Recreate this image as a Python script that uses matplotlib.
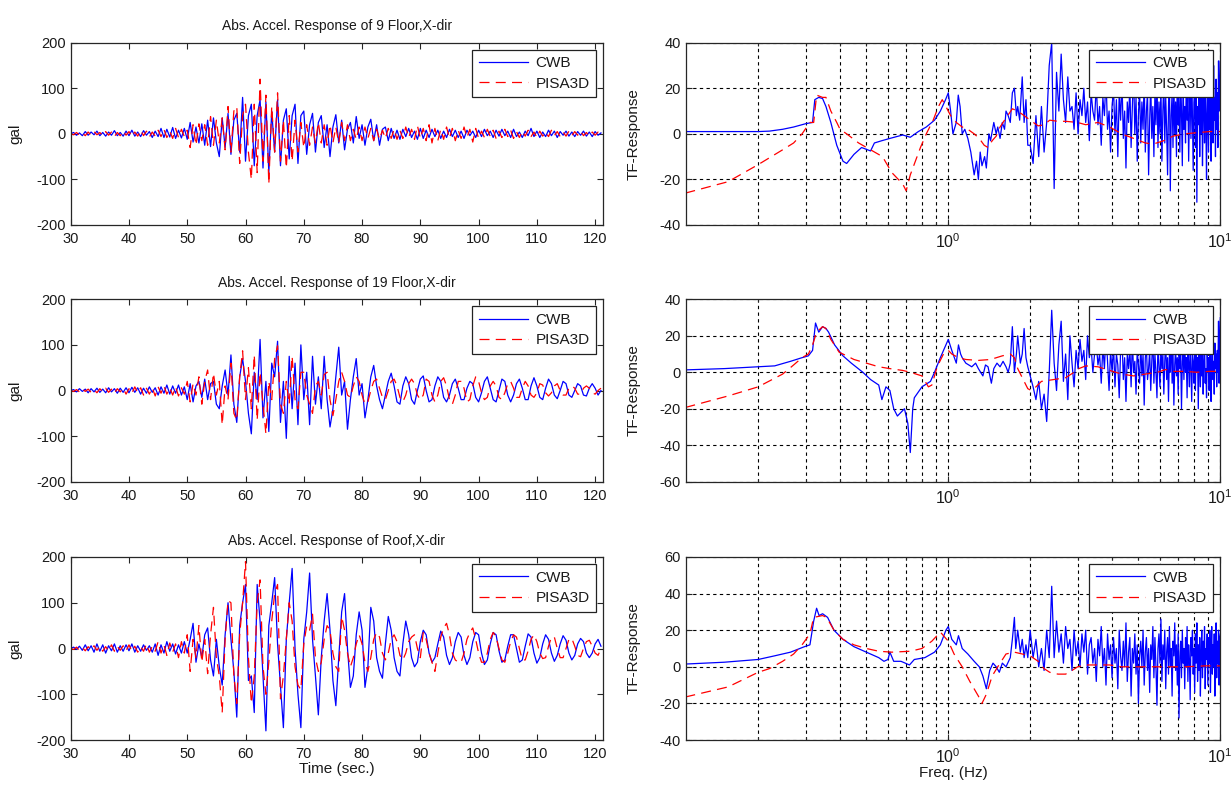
import numpy as np
import matplotlib
matplotlib.use("Agg")
import matplotlib.pyplot as plt
from matplotlib.ticker import LogLocator, NullFormatter

plt.rcParams['font.family'] = ['Liberation Sans', 'DejaVu Sans']
plt.rcParams['axes.unicode_minus'] = False

# ---------------- time-history data (gal), sampled every 0.5 s from 30 s ----------------
t_start = 30.0
t_step = 0.5

cwb_9f = [0, 3, -3, 2, -4, 5, -3, 4, -2, 6, -4, 3, -5, 4, -3, 7, -4, 3, -5, 6,
          -4, 8, -5, 4, -6, 7, -3, 5, -8, 6,
          -6, 12, -8, 10, -7, 14, -10, 8, -9, 12,
          -12, 25, -18, 15, -20, 22, -25, 30, -28, 35,
          -20, -50, 35, -30, 45, -45, 30, 45, -40, 80,
          -60, 40, 65, -70, 40, 75, -75, 70, -85, 50,
          -40, 75, -70, 30, 55, -55, 40, 65, -65, 40,
          50, -45, 20, 45, -40, 25, 40, -30, 20, -50,
          15, 42, -20, 30, -35, 10, 25, -20, 38, -10,
          20, -25, 15, 32, -15, 20, -25, 10, 15, -15,
          12, -10, 8, -12, 10, -6, 12, -8, 6, -12,
          12, -10, 8, -8, 10, -6, 8, -10, 6, -8,
          10, -6, 8, -8, 6, -10, 8, -4, 6, -8,
          8, -6, 10, -4, 6, -8, 8, -5, 10, -4,
          6, -8, 10, -6, 4, -8, 6, -4, 12, -6,
          6, -8, 4, -6, 8, -4, 6, -8, 5, -3,
          6, -5, 4, -6, 5, -3, 6, -5, 4, -6,
          5, -3, 2]

pisa_9f = [0, -2, 3, -3, 2, -4, 4, -3, 5, -2, 3, -4, 5, -3, 4, -6, 3, -4, 6, -3,
           5, -6, 4, -5, 8, -4, 6, -7, 4, -5,
           8, -6, 10, -8, 6, -10, 12, -8, 10, -6,
           8, -30, 20, -25, 22, -15, 20, -25, 38, -25,
           30, -20, 35, -35, 60, -40, 50, 60, -65, 40,
           65, -40, -100, 65, -85, 120, -60, 85, -110, 60,
           -40, 90, -60, 30, -75, 40, -60, 30, -40, 25,
           -30, 20, -25, 15, -20, 25, -20, 20, -25, 20,
           -20, 15, -20, 25, -15, 20, -15, 10, -12, 15,
           -15, 15, -10, 12, -15, 10, -12, 8, -10, 12,
           -10, 10, -12, 8, -10, 15, -8, 10, -12, 18,
           -10, 12, -15, 20, -20, 12, -15, 10, -12, 15,
           -10, 12, -15, 8, -10, 15, -8, 10, -18, 12,
           -10, 6, -8, 10, -6, 8, -10, 6, -8, 10,
           -6, 8, -10, 5, -8, 6, -5, 8, -6, 4,
           -8, 6, -5, 4, -6, 8, -4, 5, -6, 4,
           -5, 6, -4, 5, -3, 6, -4, 3, -5, 4,
           -3, 4, 2]

cwb_19f = [0, 2, -3, 4, -2, 3, -5, 4, -3, 5, -4, 3, -5, 6, -3, 4, -6, 5, -4, 6,
           -5, 7, -4, 6, -8, 5, -6, 8, -4, 6,
           -10, 8, -6, 12, -8, 10, -6, 12, -10, 8,
           -20, 15, -25, 10, 20, -15, 25, -20, 15, 20,
           -30, -40, 10, 45, -10, 78, -30, -70, 30, 70,
           20, -50, -95, 40, -20, 112, -60, 20, -90, 60,
           30, 108, -70, 20, -105, 75, -40, 60, -75, 100,
           -20, 40, -75, 75, -30, 30, -40, 75, -20, -80,
           -40, 30, 95, -10, 20, -85, -20, 30, 70, -10,
           15, -60, -20, 30, 55, 10, -20, -40, -10, 20,
           38, 10, -25, -30, 10, 30, 15, -20, -30, 0,
           25, 32, 0, -25, -20, 10, 30, 20, -15, -25,
           -10, 15, 25, 5, -20, -20, 5, 20, 15, -15,
           -25, -5, 20, 30, 5, -20, -25, 0, 25, 20,
           -10, -25, -10, 15, 25, 5, -20, -20, 10, 28,
           10, -15, -20, 5, 25, 15, -10, -18, 0, 20,
           15, -10, -15, 0, 15, 10, -10, -12, 5, 15,
           5, -10, 0]

pisa_19f = [0, -2, 2, -3, 4, -2, 3, -4, 2, -5, 4, -3, 5, -4, 3, -6, 4, -3, 5, -8,
            4, -6, 8, -5, 6, -10, 5, -8, 6, -12,
            8, -6, 10, -8, 6, -10, 8, -12, 6, -8,
            20, -25, 15, -10, 30, -30, 20, 45, -20, 38,
            -10, 20, -75, 10, -20, 60, -50, -65, 30, 87,
            -20, 50, -40, 78, -65, 40, -30, -95, 20, -20,
            70, 98, -30, -50, 20, -30, 75, -20, -40, 40,
            40, -10, -30, -50, 10, 20, -10, 35, 40, -20,
            -55, -20, 20, 40, 20, -10, -15, 10, 30, 20,
            -10, -30, -25, 0, 20, 25, 5, -15, -20, 0,
            20, 25, 10, -15, -25, -10, 15, 25, 15, -10,
            -20, -10, 25, 20, -10, -25, -10, 20, 28, 10,
            -20, -30, -10, 20, 20, 5, -25, -20, 10, 30,
            20, -5, -20, -15, 10, 20, 10, -15, -20, -5,
            15, 20, 5, -15, -15, 5, 20, 10, -10, -15,
            -5, 15, 12, -5, -12, -5, 10, 15, 0, -10,
            -10, 5, 10, 5, -8, -8, 5, 10, 5, -5,
            -8, 0, 5]

cwb_roof = [0, 3, -2, 5, -4, 8, -5, 6, -8, 10, -6, 8, -10, 6, -5, 10, -8, 6, -6, 8,
            -5, 10, -8, 6, -6, 8, -4, 6, -8, 10,
            -15, 8, -10, 15, -6, 10, -12, 8, -10, 15,
            -10, 20, 55, -30, 10, -20, 30, 45, -25, -60,
            20, -40, -80, 30, 100, 20, -50, -150, 50, 100,
            140, -70, -60, -140, 140, 60, -60, -180, 50, 100,
            155, 10, -80, -173, 20, 100, 175, 0, -100, -173,
            20, 80, 165, 20, -60, -145, -20, 60, 120, 40,
            -70, -125, -20, 80, 120, 0, -85, -60, 30, 80,
            40, -85, -40, 90, 60, -20, -50, -65, 10, 70,
            40, -20, -50, -60, 10, 60, 30, -20, -40, -30,
            15, 40, 30, -10, -30, -20, 10, 38, 25, -15,
            -35, -20, 15, 35, 25, -15, -35, -20, 15, 35,
            30, -10, -35, -25, 10, 35, 30, -5, -30, -25,
            5, 30, 30, 0, -30, -25, 5, 32, 25, -10,
            -32, -20, 10, 30, 20, -10, -28, -15, 10, 28,
            18, -10, -25, -15, 10, 22, 15, -10, -20, -10,
            10, 20, 5]

pisa_roof = [0, -2, 3, -4, 2, -5, 4, -3, 6, -4, 5, -6, 4, -5, 8, -6, 5, -4, 6, -5,
             8, -6, 5, -8, 4, -6, 10, -8, 5, -6,
             15, -10, 8, -15, 12, -8, 10, -20, 15, -10,
             30, -50, 20, -20, 50, -30, 20, -55, 30, 90,
             -20, -60, -140, 20, 105, 100, -60, -120, 30, 100,
             190, -20, -120, -60, 100, 150, -40, -100, -30, 60,
             120, 140, -110, -60, 20, 100, 60, -40, -80, -90,
             10, 50, 40, 75, -20, -50, -30, 20, 50, 40,
             -10, -40, -50, 70, 40, -10, -40, -20, 10, 30,
             10, -30, -50, -20, 20, 35, 25, -10, -25, -10,
             20, 30, 15, -15, -25, -10, 15, 25, 30, 0,
             -20, 35, 20, -10, -30, -50, -10, 25, 45, 55,
             30, -10, -25, -30, -30, -10, 20, 35, 45, 20,
             -10, -30, -30, -10, 20, 35, 25, 0, -25, -30,
             -10, 15, 30, 25, 0, -25, -25, -5, 20, 30,
             15, -10, -22, -20, 5, 25, 25, 0, -20, -20,
             0, 20, 22, 5, -15, -18, 0, 15, 18, 5,
             -10, -15, 0]

time_titles = ["Abs. Accel. Response of 9 Floor,X-dir",
               "Abs. Accel. Response of 19 Floor,X-dir",
               "Abs. Accel. Response of Roof,X-dir"]

# ---------------- transfer-function data ----------------
# smooth low-frequency part of CWB (explicit frequencies), noisy part on 0.05 Hz grid from 2 Hz
hi_f_start = 2.0
hi_f_step = 0.05

tf_cwb_9f_f = [0.108, 0.15, 0.2, 0.22, 0.246, 0.27, 0.30, 0.317, 0.323, 0.334,
               0.345, 0.355, 0.37, 0.389, 0.41, 0.423, 0.45, 0.48, 0.518, 0.535,
               0.57, 0.61, 0.68, 0.725, 0.776, 0.83, 0.89, 0.935, 0.977, 1.0,
               1.02, 1.04, 1.07, 1.088, 1.105, 1.125, 1.15, 1.18, 1.21, 1.245,
               1.27, 1.29, 1.31, 1.33, 1.36, 1.38, 1.41, 1.43, 1.47, 1.50,
               1.52, 1.55, 1.58, 1.61, 1.63, 1.66, 1.69, 1.72, 1.75, 1.78,
               1.80, 1.83, 1.87, 1.90, 1.93, 1.96]
tf_cwb_9f_v = [1, 1, 1, 1.2, 2, 3, 4.5, 5, 15, 16,
               15.5, 12, 5, -5, -12, -13, -9, -6, -7.5, -4,
               -3, -2, -0.5, -1.5, 1, 3, 6, 10, 15, 18,
               10, 0, 5, 17, 12, 0, 2, -2, -8, -18,
               -12, -20, -8, -14, -10, -15, 0, -3, 5, 0,
               3, -2, 5, 2, 10, 8, 5, 18, 20, 8,
               12, 6, 25, 5, 15, -5]
tf_cwb_9f_hi = [-5, -13, 8, -10, 12, -8, 5, 30, 40, -24,
                27, 10, 35, 15, 5, 25, 10, 12, 2, 18,
                0, 15, 8, 20, 5, 14, -3, 18, 10, 6,
                22, 4, 12, -5, 16, 8, 25, 2, 10, -8,
                12, 20, 0, 15, -10, 18, 6, 24, -2, 10,
                -15, 14, 5, 22, -6, 12, 28, 0, 16, -12,
                8, 20, -4, 14, 2, 25, -8, 10, 18, -18,
                6, 22, -2, 12, -10, 18, 4, 26, -6, 14,
                0, 20, -12, 10, 24, -4, 16, 2, -18, 12,
                28, -25, 8, 18, -6, 22, 0, 14, -10, 30,
                4, 16, -8, 20, 10, -14, 24, 2, 12, -4,
                26, 6, 18, -12, 10, 22, -2, 30, 8, -16,
                14, 20, -6, 25, -30, 12, 4, 28, -10, 16,
                0, 22, -14, 10, 26, -4, 18, 6, -20, 24,
                8, -8, 20, 2, 28, -12, 14, 22, -4, 30,
                6, 16, -10, 24, 2, 18, -6, 32, 10, 20,
                32]
tf_pisa_9f_f = [0.108, 0.155, 0.2, 0.246, 0.27, 0.29, 0.31, 0.32, 0.328, 0.345,
                0.355, 0.37, 0.389, 0.40, 0.423, 0.468, 0.518, 0.573, 0.62, 0.68,
                0.70, 0.725, 0.79, 0.83, 0.88, 0.92, 0.95, 0.98, 1.02, 1.07,
                1.125, 1.18, 1.245, 1.30, 1.355, 1.40, 1.45, 1.50, 1.55, 1.63,
                1.72, 1.80, 1.90, 2.0, 2.14, 2.25, 2.36, 2.53, 2.7, 2.99,
                3.2, 3.55, 3.92, 4.34, 4.8, 5.3, 5.66, 6.2, 6.7, 7.4,
                8.2, 9.1, 10.0]
tf_pisa_9f_v = [-26, -21, -13.5, -7, -4, 0, 5, 5, 17, 16,
                16, 10, 5, 2, 0, -4, -7, -10, -17, -22,
                -25, -18, -6, 0, 6, 12, 15, 12, 8, 5,
                3, 2, 0, -2, -5, -6, -3, -1, 3, 7,
                11, 10, 8, 6, 3.5, 4, 6, 5.5, 5.5, 5,
                4, 5, 3, 0, -2, -4, -4.5, -3, -1, 0,
                0.5, 1, 1]

tf_cwb_19f_f = [0.108, 0.15, 0.2, 0.23, 0.263, 0.29, 0.306, 0.317, 0.325, 0.334,
                0.345, 0.355, 0.363, 0.382, 0.41, 0.44, 0.485, 0.518, 0.555, 0.57,
                0.59, 0.61, 0.63, 0.65, 0.69, 0.71, 0.725, 0.74, 0.75, 0.80,
                0.86, 0.89, 0.935, 0.98, 1.0, 1.03, 1.07, 1.09, 1.11, 1.125,
                1.16, 1.22, 1.26, 1.29, 1.34, 1.37, 1.40, 1.44, 1.47, 1.51,
                1.55, 1.59, 1.63, 1.66, 1.69, 1.72, 1.75, 1.78, 1.80, 1.84,
                1.87, 1.90, 1.93, 1.96]
tf_cwb_19f_v = [1.3, 2, 3, 3.5, 6, 8, 9, 12, 27, 22,
                25, 24, 22, 15, 9, 5, 0, -4, -7, -15,
                -8, -10, -20, -24, -20, -28, -44, -20, -14, -8,
                -5, 0, 8, 15, 18, 12, 5, 15, 10, 8,
                5, 3, 5, 2, -2, 4, 3, -6, 2, 5,
                3, 6, 3, 0, 5, 25, 0, 10, 20, 5,
                10, 24, 8, 3]
tf_cwb_19f_hi = [-2, -8, -15, -5, -20, -12, -27, 0, 34, 5,
                 -10, 15, 28, -5, 10, -15, 20, 5, -8, 12,
                 2, 18, 6, 12, -4, 20, 8, 14, 0, 10,
                 16, 4, 10, -6, 14, 2, 22, 6, -10, 12,
                 0, 15, -8, 10, 4, -14, 12, 20, -4, 8,
                 -16, 10, 2, 14, -8, 18, 0, 6, -12, 12,
                 4, -6, 16, -2, 10, -18, 8, 14, -4, 2,
                 12, -10, 6, 20, -6, 10, 0, -14, 16, 4,
                 -8, 14, 2, 10, -12, 6, 18, -4, 8, -16,
                 10, 0, 24, -6, 12, -18, 4, 14, -2, 8,
                 -12, 16, 2, 10, -20, 6, 12, -4, 18, 0,
                 8, -14, 14, 4, -8, 20, 2, -16, 10, 6,
                 -6, 12, -10, 16, 0, 8, -20, 10, 4, -8,
                 14, -2, 10, -12, 6, 18, -6, 2, -14, 12,
                 0, 8, -10, 14, 4, -16, 10, 22, -4, 6,
                 -12, 16, 2, 10, -8, 12, 0, 28, -6, 20,
                 30]
tf_pisa_19f_f = [0.108, 0.155, 0.2, 0.246, 0.27, 0.29, 0.306, 0.317, 0.328, 0.345,
                 0.355, 0.37, 0.397, 0.423, 0.45, 0.5, 0.555, 0.61, 0.68, 0.725,
                 0.80, 0.845, 0.87, 0.91, 0.96, 1.0, 1.03, 1.09, 1.16, 1.29,
                 1.43, 1.58, 1.69, 1.75, 1.80, 1.90, 1.96, 2.02, 2.1, 2.2,
                 2.44, 2.7, 2.9, 3.02, 3.2, 3.55, 3.92, 4.34, 4.8, 5.3,
                 5.88, 6.3, 6.7, 7.4, 8.2, 9.1, 10.0]
tf_pisa_19f_v = [-19.3, -13, -8, -1, 4, 8, 10, 15, 22, 25,
                 24, 18, 11, 9, 7, 5, 3, 2, 1, 0,
                 -2, -8, -7, 3, 10, 12, 10, 8, 7, 6.5,
                 7, 9, 10, 8, 2, -5, -9, -10, -8, -5,
                 -4, -3, 0, 2, 3.5, 3, 1, -1, -2, -1,
                 0, 1.5, 0.5, 0.5, 0, 0.5, 0.5]

tf_cwb_roof_f = [0.108, 0.15, 0.2, 0.23, 0.263, 0.296, 0.31, 0.32, 0.328, 0.335,
                 0.345, 0.36, 0.38, 0.41, 0.45, 0.5, 0.555, 0.58, 0.60, 0.61,
                 0.63, 0.67, 0.72, 0.75, 0.82, 0.89, 0.935, 0.98, 1.0, 1.03,
                 1.07, 1.09, 1.125, 1.18, 1.245, 1.3, 1.34, 1.38, 1.42, 1.46,
                 1.5, 1.54, 1.58, 1.63, 1.69, 1.72, 1.75, 1.77, 1.80, 1.84,
                 1.87, 1.90, 1.93, 1.96]
tf_cwb_roof_v = [1.5, 2.5, 4, 6, 8, 11, 12, 25, 32, 28,
                 29, 27, 20, 15, 11, 8, 5, 3, 4, 8,
                 3, 3, 1, 4, 5, 8, 12, 20, 22, 15,
                 12, 17, 10, 7, 3, 0, -5, -12, -2, 2,
                 0, -3, 2, 0, 5, 15, 27, 10, 20, 8,
                 15, 5, 12, 5]
tf_cwb_roof_hi = [20, 5, 15, 0, 10, -2, 20, 5, 44, 5,
                  25, 8, 18, 2, 22, 10, 15, -2, 20, 6,
                  14, 0, 18, 8, 20, -4, 12, 16, 2, 10,
                  -8, 15, 6, 22, 0, 10, -10, 18, 4, 12,
                  -6, 16, 2, 10, -12, 20, 6, -2, 14, 0,
                  24, -8, 8, 16, -16, 10, 2, 18, -4, 12,
                  -20, 6, 14, 0, 20, -10, 8, 16, -2, 10,
                  -14, 12, 4, 22, -6, 16, 0, -21, 10, 18,
                  2, 26, -8, 12, 4, 20, -12, 8, 16, -4,
                  22, 0, 10, -16, 14, 6, 24, -2, 12, -10,
                  18, -28, 6, 14, -6, 20, 2, 10, -12, 16,
                  0, 22, -8, 12, 4, -18, 16, 6, 20, -4,
                  10, -14, 18, 2, 24, -8, 12, -2, 16, -16,
                  8, 20, -6, 14, 0, 22, -12, 10, 4, 18,
                  -10, 16, 2, 20, -14, 8, 22, -4, 12, 0,
                  18, -16, 10, 24, -6, 14, 2, 20, -10, 16,
                  18]
tf_pisa_roof_f = [0.108, 0.155, 0.2, 0.22, 0.246, 0.27, 0.29, 0.31, 0.32, 0.345,
                  0.357, 0.38, 0.41, 0.45, 0.5, 0.555, 0.62, 0.725, 0.80, 0.87,
                  0.935, 0.96, 1.0, 1.05, 1.125, 1.2, 1.29, 1.33, 1.38, 1.45,
                  1.52, 1.63, 1.75, 1.87, 2.0, 2.14, 2.25, 2.36, 2.53, 2.7,
                  2.85, 2.99, 3.2, 3.55, 3.92, 4.34, 4.8, 5.5, 6.3, 7.4,
                  8.8, 10.0]
tf_pisa_roof_v = [-16.5, -11, -3, -1, 3, 7, 12, 18, 27, 28,
                  27, 20, 15, 12, 10, 8.5, 8, 8.5, 10, 14,
                  19, 17, 14, 7, 0, -8, -16, -20, -15, -5,
                  0, 7, 8, 7, 6, 3, -1, -3, -4, -4,
                  -2, 0, 1, 1, 1, 0, 0, 0, 0, 0,
                  0.5, 0.5]

tf_yticks = [[-40, -20, 0, 20, 40],
             [-60, -40, -20, 0, 20, 40],
             [-40, -20, 0, 20, 40, 60]]

series_labels = ["CWB", "PISA3D"]

# ---------------- figure ----------------
W, H = 1231, 787
fig = plt.figure(figsize=(W / 100, H / 100), dpi=100)

rows_px = [(42.7, 225.0), (299.3, 481.7), (557.0, 740.0)]
left_px = (70.7, 603.3)
right_px = (685.7, 1220.3)

BLUE = (0, 0, 1)
RED = (1, 0, 0)
DASH = (8, 5)
TXT = '#1a1a1a'


def axes_at(xpx, ypx):
    x0, x1 = xpx
    y0, y1 = ypx
    return fig.add_axes([x0 / W, 1 - y1 / H, (x1 - x0) / W, (y1 - y0) / H])


def style(ax):
    for s in ax.spines.values():
        s.set_linewidth(0.9)
        s.set_color('#262626')
    ax.tick_params(which='both', direction='in', top=True, right=True,
                   labelsize=10.5, colors='#262626', labelcolor=TXT, width=0.8)
    ax.tick_params(which='major', length=4.5)
    ax.tick_params(which='minor', length=2.5)
    ax.tick_params(axis='x', which='major', pad=5)


def add_legend(ax):
    leg = ax.legend(loc='upper right', fontsize=11, frameon=True, fancybox=False,
                    edgecolor='#222222', framealpha=1, handlelength=3.2,
                    handletextpad=0.5, labelspacing=0.4, borderpad=0.45,
                    borderaxespad=0.45)
    leg.get_frame().set_linewidth(0.9)
    for txt in leg.get_texts():
        txt.set_color(TXT)


time_series = [(cwb_9f, pisa_9f), (cwb_19f, pisa_19f), (cwb_roof, pisa_roof)]

for i, (cwb, pisa) in enumerate(time_series):
    ax = axes_at(left_px, rows_px[i])
    tc = t_start + t_step * np.arange(len(cwb))
    tp = t_start + t_step * np.arange(len(pisa))
    ax.plot(tc, cwb, color=BLUE, lw=0.9, label=series_labels[0])
    ax.plot(tp, pisa, color=RED, lw=0.9, dashes=DASH, label=series_labels[1])
    ax.set_xlim(30, 121.4)
    ax.set_ylim(-200, 200)
    ax.set_xticks(np.arange(30, 121, 10))
    ax.set_yticks([-200, -100, 0, 100, 200])
    style(ax)
    ax.set_title(time_titles[i], fontsize=10, color=TXT, pad=9)
    ax.set_ylabel('gal', fontsize=11, color=TXT)
    ax.yaxis.set_label_coords(-0.09, 0.5)
    if i == 2:
        ax.set_xlabel('Time (sec.)', fontsize=11, color=TXT, labelpad=1)
    add_legend(ax)

tf_sets = [
    (tf_cwb_9f_f, tf_cwb_9f_v, tf_cwb_9f_hi, tf_pisa_9f_f, tf_pisa_9f_v),
    (tf_cwb_19f_f, tf_cwb_19f_v, tf_cwb_19f_hi, tf_pisa_19f_f, tf_pisa_19f_v),
    (tf_cwb_roof_f, tf_cwb_roof_v, tf_cwb_roof_hi, tf_pisa_roof_f, tf_pisa_roof_v),
]

for i, (cf, cv, chi, pf, pv) in enumerate(tf_sets):
    ax = axes_at(right_px, rows_px[i])
    f_hi = hi_f_start + hi_f_step * np.arange(len(chi))
    f_all = np.concatenate([np.asarray(cf, float), f_hi])
    v_all = np.concatenate([np.asarray(cv, float), np.asarray(chi, float)])
    ax.plot(f_all, v_all, color=BLUE, lw=0.9, label=series_labels[0])
    ax.plot(pf, pv, color=RED, lw=0.9, dashes=DASH, label=series_labels[1])
    ax.set_xscale('log')
    ax.set_xlim(0.1083, 10)
    yt = tf_yticks[i]
    ax.set_ylim(yt[0], yt[-1])
    ax.set_yticks(yt)
    ax.xaxis.set_major_locator(LogLocator(base=10, numticks=10))
    ax.xaxis.set_minor_locator(LogLocator(base=10, subs=np.arange(2, 10), numticks=20))
    ax.xaxis.set_minor_formatter(NullFormatter())
    ax.grid(True, which='both', axis='x', color='black', lw=0.8, ls=(0, (3, 3)))
    ax.grid(True, which='major', axis='y', color='black', lw=0.8, ls=(0, (3, 3)))
    ax.set_axisbelow(True)
    style(ax)
    ax.tick_params(axis='x', which='major', labelsize=11.5)
    ax.set_ylabel('TF-Response', fontsize=11, color=TXT)
    ax.yaxis.set_label_coords(-0.085, 0.5)
    if i == 2:
        ax.set_xlabel('Freq. (Hz)', fontsize=11, color=TXT, labelpad=0)
    add_legend(ax)

fig.savefig('out.png', dpi=100, facecolor='white')
